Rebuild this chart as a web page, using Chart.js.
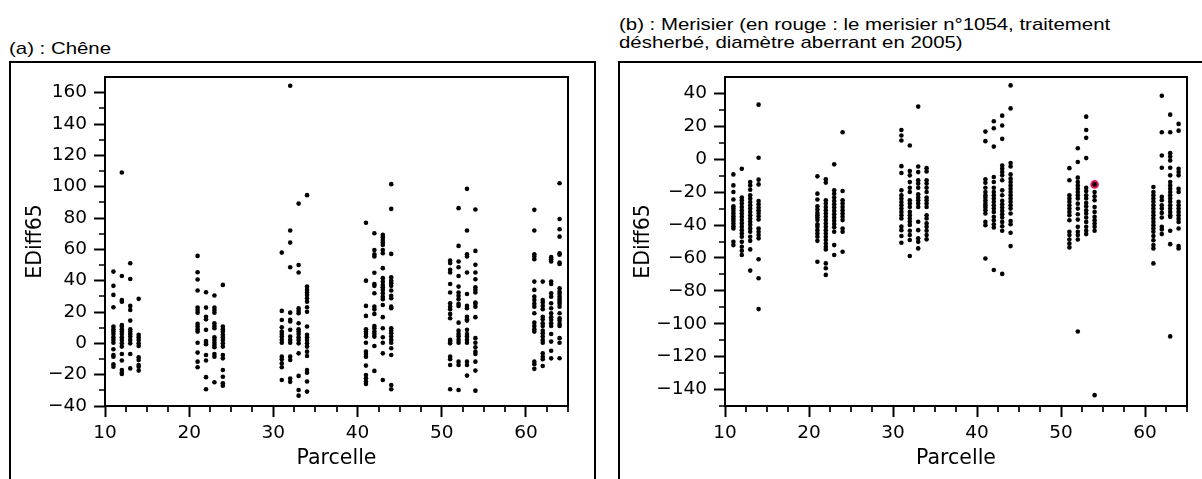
<!DOCTYPE html>
<html><head><meta charset="utf-8">
<script src="https://cdn.jsdelivr.net/npm/chart.js@4.4.1/dist/chart.umd.min.js"></script>
<style>
html,body{margin:0;padding:0;background:#fff;width:1202px;height:479px;overflow:hidden;position:relative}
.title{position:absolute;font-family:"Liberation Sans",Arial,sans-serif;font-size:17px;line-height:17.5px;color:#000;white-space:nowrap;transform-origin:0 0;transform:scaleX(1.2)}
.box{position:absolute;border:2px solid #000;box-sizing:border-box}
canvas{position:absolute;top:0}
</style></head><body>
<div class="title" style="left:9px;top:40px">(a) : Chêne</div>
<div class="title" style="left:619px;top:16px">(b) : Merisier (en rouge : le merisier n°1054, traitement<br>désherbé, diamètre aberrant en 2005)</div>
<div class="box" style="left:9px;top:61px;width:587px;height:440px"></div>
<div class="box" style="left:618px;top:61px;width:600px;height:440px"></div>
<canvas id="ca" width="600" height="479" style="left:0"></canvas>
<canvas id="cb" width="602" height="479" style="left:600px"></canvas>
<script>
const parcelles = [11,12,13,14,21,22,23,24,31,32,33,34,41,42,43,44,51,52,53,54,61,62,63,64];

const cheneEDiff65 = [
  [45.8,36.7,30.9,23,10.7,9,7.5,6,3.9,2.2,0.4,-3.8,-7.4,-8.5,-13.4,-14.9],
  [109,43,27.7,26.6,11.7,10.7,9,7.5,6,3.9,2.2,0,-2.1,-6.8,-11,-17,-18.7,-19.5],
  [51.1,41.1,23.9,21.3,14.5,9,7.5,6,4.3,2.2,0,-6.8,-16],
  [28.4,5.4,3.9,2.2,0,-1.7,-8.9,-10.6,-13.9,-14.9,-17.4],
  [55.8,45.4,40.7,33.7,22.8,21.3,19.6,12.4,10.7,9,7.5,0.4,-5.9,-11.7,-15.3],
  [32.6,22.8,17,15.3,8.6,1.5,0.4,-0.6,-7.4,-11,-21.6,-29.3],
  [30.5,22.8,21.3,19.6,12.8,11.1,9.6,3.9,2.2,0.4,-1.1,-2.5,-6.8,-8.5,-24.8],
  [37.3,10.7,9,7.5,5.4,3.9,2.2,0,-2.1,-7.4,-9.6,-17,-21.3,-25.5,-27],
  [57.9,20.7,14.9,10.3,7.5,6,4.3,2.2,0.4,-8.5,-10.2,-12.8,-15.3,-23.4],
  [164.4,72,64.3,48.6,19.6,15,13.9,8.6,4.3,2.2,0.4,-8.5,-10.6,-22.5,-24.6],
  [89.2,50,45.2,22.3,20.7,19.2,12.8,9,7.5,6,3.9,2.2,0,-6.4,-20.8,-29.8,-33.4],
  [94.6,36.2,34.1,32.4,30.9,28.8,26.6,23,20.2,10.7,5.4,3.9,2.2,0,-2.1,-5.3,-8.1,-17,-18.7,-24.4,-30.8],
  [77,40,23.9,17.5,9,7.5,6,4.3,0.4,-5.3,-6.8,-8.5,-14.2,-20.2,-22.3,-24.4,-25.9],
  [70.3,59.6,56.9,55.4,45.1,37.9,36.7,32,23.4,21.7,18.8,11.1,9.6,7.5,6,4.3,-1.7,-17.6],
  [69.2,67.7,66,64.3,62.8,59.6,57.5,48,41.6,39.4,37.3,35.8,34.1,32,29.8,28.2,24.5,16.7,9.6,3.9,0.4,-6.4,-23.4],
  [101.6,85.8,57.1,42.2,40,38.4,36.7,33.7,30.3,28.8,23.4,22.4,9.6,8.1,6.4,4.3,2.2,0.4,-3.1,-7.4,-26.6,-29.3],
  [52.8,51.2,46.9,45.2,37.9,32.4,25.6,23.4,21.8,18.8,16,2.2,1.1,0,-8.5,-10.2,-13.8,-29.3],
  [86.3,62.2,52.2,48.6,43,36.2,32.4,30.3,28.2,25.2,23.9,13.2,8.1,6,4.3,2.2,0.4,-11.7,-13.8,-29.8],
  [98.6,72,56.9,55.4,45.2,31.5,23.9,22.4,17,15.4,14.5,8.6,6,4.3,2.2,0.4,-11.7,-13.8,-20.6],
  [85.4,59,50.1,45.2,40.9,35.8,34.1,32.4,26,25.2,23.4,16.7,3.3,0.4,-2.5,-5.3,-6.8,-11.7,-17.4,-30.2],
  [85.2,72,56.9,55.4,53.7,39.4,34.1,29.8,27.7,25.2,23.4,19.2,13.2,11.1,9,7.5,-11.7,-13.3,-16.3],
  [39.4,27.7,26,23.9,21.8,17,15.4,12.8,11.1,8.1,6.4,4.3,2.2,0.4,-6.4,-8.5,-10.2,-14.5],
  [55,53.7,52.2,39.4,37.9,32,29.8,25.6,22.4,19.2,16.7,15,12.8,11.1,6,1.1,-4.7,-9.6],
  [102.2,79.4,72.8,68.1,57.5,56.5,51.5,50.7,35.2,33,31.5,29.8,28.2,26.6,25.2,23.4,19.2,16,14.5,12.4,11.1,3.3,0.4,-9.5]
];

const merisierEDiff65 = [
  [-9.2,-15.9,-19.9,-24.5,-28.6,-30,-31.4,-33,-34.6,-36,-37.4,-39,-40.7,-42.1,-50.2,-52.2],
  [-5.8,-23.3,-24.9,-26.9,-29,-31,-33,-35,-37,-39,-41.1,-43.1,-45.1,-47.1,-50.2,-53.2,-55.6,-58.2],
  [-13.9,-15.9,-18.5,-21.9,-23.9,-26,-28,-30,-32,-34,-36,-38,-39.9,-42.1,-44.1,-47.1,-49.6,-54.8,-67.7],
  [33.2,0.9,-12.4,-15.3,-25.4,-27.4,-29.4,-31,-32.6,-34.6,-36.6,-42.1,-44.1,-46.1,-48.1,-60.8,-72.3,-91.1],
  [-10.4,-20.9,-24.5,-28.6,-30.6,-32.6,-34,-35.4,-37,-39.5,-41.1,-43.1,-45.1,-47.1,-49.6,-62.3],
  [-12.2,-14.2,-24.9,-26.9,-29,-31,-33,-35,-37,-39,-41.1,-43.1,-45.1,-47.1,-49.1,-51.2,-53.2,-54.8,-63.3,-66.3,-70.3],
  [-3.1,-18.9,-20.9,-23.3,-25.4,-27.4,-29.4,-31.4,-33.4,-35.4,-37.4,-39.4,-41.4,-44.1,-52.2,-58.2],
  [16.4,-19.3,-24.9,-26.9,-29,-31,-33,-35,-37,-42.1,-44.1,-56.2],
  [17.8,14.4,11.4,-4.2,-8.4,-18.9,-21.9,-23.9,-26,-28,-30,-32,-34,-36,-40.9,-43.1,-46.7,-50.8],
  [8.4,-7.2,-9.8,-13.9,-17.3,-19.9,-24.9,-26.9,-29,-32,-34,-36,-38,-39.9,-43.5,-46.1,-49.1,-58.8],
  [32,-4.4,-7.8,-12.8,-14.8,-17.3,-21.3,-23.3,-24.9,-26.9,-29,-38,-43.1,-48.1,-50.2,-54.2],
  [-5.4,-7.4,-12.8,-14.8,-17.3,-19.9,-23.3,-24.9,-26.9,-29,-34,-36,-39,-41.1,-43.5,-46.1,-48.7],
  [16.8,11,-12.2,-14.3,-17.3,-19.9,-21.9,-23.3,-24.9,-26.6,-28,-29.4,-31,-33,-38.1,-40.1,-60.3],
  [23.1,18.8,7.7,-10.8,-13.8,-17.3,-19.9,-21.9,-23.9,-25.9,-28,-30,-32,-35,-37.1,-39.5,-41.5,-67.3],
  [26.5,20.5,12.4,-3.8,-5.8,-7.8,-9.8,-12.8,-18.9,-21.9,-25.3,-27.4,-29.4,-31.4,-33.4,-35.4,-38.1,-40.7,-43.5,-69.7],
  [44.9,30.9,-2.3,-4.4,-9.2,-11.8,-13.9,-15.9,-17.9,-19.9,-21.9,-23.9,-25.9,-28,-30,-33,-37.5,-39.5,-44.7,-52.8],
  [-5.4,-12.8,-21.9,-23.9,-25.9,-28,-30,-32,-34,-37.1,-44.1,-46.1,-48.8,-51.2,-53.6],
  [6.7,-1.7,-11.2,-13.8,-15.9,-17.9,-19.9,-21.9,-23.9,-27,-30,-33.4,-36.7,-41.1,-44.1,-46.1,-48.8,-104.7],
  [25.9,17.8,13,0.7,-17.3,-19.3,-21.9,-23.9,-26.6,-28.6,-31,-33,-35.4,-38.1,-41.1,-43.5,-45.5],
  [-15.3,-19.9,-22.5,-24.9,-29,-32,-35,-37.1,-39.1,-41.1,-43.5,-143.4],
  [-16.9,-19.9,-21.9,-23.9,-25.9,-28,-30,-32,-34,-36,-38.1,-40.1,-42.1,-44.1,-46.7,-49.2,-52.2,-54.2,-63.3],
  [38.6,16.4,2.3,-5.2,-22.9,-24.9,-28,-30,-32.6,-35.4,-41.1,-42.7,-45.5],
  [27.1,16.4,3.7,1.7,-0.7,-5.2,-9.8,-13.8,-15.9,-17.9,-19.9,-21.9,-23.9,-25.9,-28,-30,-32,-34,-35,-43.5,-51.6,-107.7],
  [21.5,17.4,-5.8,-7.8,-9.8,-17.9,-19.9,-25.9,-28,-30,-32,-34,-36.1,-38.1,-42.1,-52.8,-54.2]
];

const merisierRougeParcelle = [54];
const merisierRougeEDiff65 = [-15.3];

const xTickLabels = [10,20,30,40,50,60];
const cheneYTickLabels = [-40,-20,0,20,40,60,80,100,120,140,160];
const merisierYTickLabels = [-140,-120,-100,-80,-60,-40,-20,0,20,40];
const xTitle = 'Parcelle';
const yTitle = 'EDiff65';

function toPoints(xs, vals){
  return xs.flatMap((p,i)=>vals[i].map(v=>({x:p,y:v})));
}
const fmt = v => String(v).replace('-', '\u2212');
const TICKFONT = {family:'DejaVu Sans', size:18.5};
const TITLEFONT = {family:'DejaVu Sans', size:20.5};

const framePlugin = {
  id:'frame',
  afterDraw(chart){
    const {ctx, chartArea:a, scales} = chart;
    ctx.save();
    ctx.strokeStyle = '#000';
    ctx.lineWidth = 2;
    ctx.strokeRect(a.left, a.top, a.right-a.left, a.bottom-a.top);
    ctx.lineWidth = 1.7;
    const xs = scales.x, ys = scales.y;
    const xl = chart.options.plugins.frame.xLabels, yl = chart.options.plugins.frame.yLabels;
    ctx.beginPath();
    xs.ticks.forEach(t=>{
      if (xl.includes(t.value)) return;
      const px = Math.round(xs.getPixelForValue(t.value));
      ctx.moveTo(px, a.bottom); ctx.lineTo(px, a.bottom+6);
    });
    ys.ticks.forEach(t=>{
      if (yl.includes(t.value) || t.value === ys.max) return;
      const py = Math.round(ys.getPixelForValue(t.value));
      ctx.moveTo(a.left, py); ctx.lineTo(a.left-6, py);
    });
    ctx.stroke();
    ctx.restore();
  }
};

function makeChart(id, datasets, ymin, ymax, yLabels, yWidth, padRight, yTitlePad){
  return new Chart(document.getElementById(id), {
    type:'scatter',
    data:{datasets},
    plugins:[framePlugin],
    options:{
      responsive:false, animation:false, devicePixelRatio:1,
      layout:{padding:{left:0, top:77, right:padRight, bottom:0}},
      plugins:{legend:{display:false}, tooltip:{enabled:false}, frame:{xLabels:xTickLabels, yLabels:yLabels}},
      scales:{
        x:{type:'linear', min:10, max:65,
          afterFit(s){ s.height = 73; },
          border:{display:false},
          grid:{display:true, drawOnChartArea:false, drawTicks:true, tickLength:11, tickWidth:2,
            tickColor: c => (c.tick && xTickLabels.includes(c.tick.value)) ? '#000' : 'rgba(0,0,0,0)'},
          ticks:{stepSize:2.5, autoSkip:false, maxRotation:0, minRotation:0, color:'#000', font:TICKFONT, padding:5,
            callback: v => xTickLabels.includes(v) ? fmt(v) : ''},
          title:{display:true, text:xTitle, color:'#000', font:TITLEFONT, padding:{top:0, bottom:8}}
        },
        y:{type:'linear', min:ymin, max:ymax,
          afterFit(s){ s.width = yWidth; },
          border:{display:false},
          grid:{display:true, drawOnChartArea:false, drawTicks:true, tickLength:11, tickWidth:2,
            tickColor: c => (c.tick && yLabels.includes(c.tick.value)) ? '#000' : 'rgba(0,0,0,0)'},
          ticks:{stepSize:10, autoSkip:false, color:'#000', font:TICKFONT, padding:7,
            callback: v => yLabels.includes(v) ? fmt(v) : ''},
          title:{display:true, text:yTitle, color:'#000', font:TITLEFONT, padding:{top:yTitlePad, bottom:0}}
        }
      }
    }
  });
}

makeChart('ca', [
  {data:toPoints(parcelles, cheneEDiff65), pointRadius:2.3, pointBackgroundColor:'#000', pointBorderWidth:0}
], -40, 170, cheneYTickLabels, 105, 32, 23);

makeChart('cb', [
  {data:toPoints(parcelles, merisierEDiff65), pointRadius:2.3, pointBackgroundColor:'#000', pointBorderWidth:0},
  {data:merisierRougeParcelle.map((p,i)=>({x:p, y:merisierRougeEDiff65[i]})), pointRadius:4.3, pointBackgroundColor:'#e8145a', pointBorderWidth:0}
], -150, 50, merisierYTickLabels, 125, 15, 31);
</script>
</body></html>
